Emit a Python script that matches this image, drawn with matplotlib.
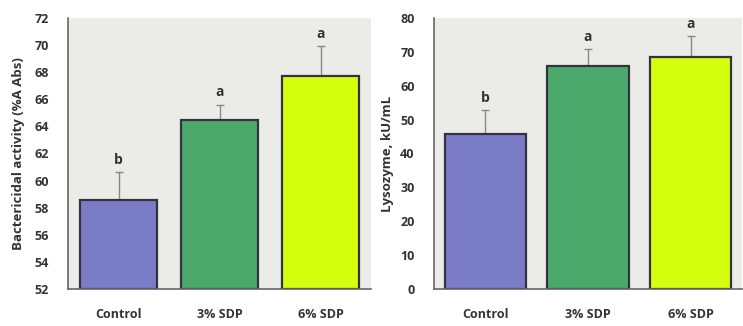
import matplotlib
matplotlib.use("Agg")
import matplotlib.pyplot as plt

categories = ["Control", "3% SDP", "6% SDP"]
bact_vals = [58.6, 64.5, 67.7]
bact_err = [2.0, 1.1, 2.2]
bact_letters = ["b", "a", "a"]
lyso_vals = [45.7, 65.8, 68.6]
lyso_err = [7.0, 5.0, 6.0]
lyso_letters = ["b", "a", "a"]
colors = ["#7b7cc6", "#4aa96a", "#d6ff10"]

plt.rcParams['font.family'] = ['Open Sans', 'DejaVu Sans']

fig = plt.figure(figsize=(7.43, 3.26), dpi=100)
W, H = 743, 326

def make_ax(left, right, top, bottom):
    return fig.add_axes([left / W, 1 - bottom / H, (right - left) / W, (bottom - top) / H])

ax1 = make_ax(68, 371, 18, 289)
ax2 = make_ax(434, 742, 18, 289)

def draw(ax, vals, errs, letters, ylim, yticks, ylabel, width, letter_off, ylab_x):
    ax.set_facecolor("#ebebe8")
    x = range(len(categories))
    ax.bar(x, [v - ylim[0] for v in vals], bottom=ylim[0], width=width, color=colors,
           edgecolor="#333340", linewidth=1.6, zorder=2)
    ax.errorbar(x, vals, yerr=[[0] * 3, errs], fmt="none", ecolor="#888888",
                elinewidth=1.0, capsize=3, capthick=1.0, zorder=1)
    for xi, v, e, l in zip(x, vals, errs, letters):
        ax.text(xi, v + e + letter_off, l, ha="center", va="bottom", fontsize=10,
                fontweight="bold", color="#333333")
    ax.set_xlim(-0.5, 2.5)
    ax.set_ylim(*ylim)
    ax.set_yticks(yticks)
    ax.set_xticks(list(x))
    ax.set_xticklabels(categories, fontsize=9, fontweight="bold", color="#333333")
    ax.tick_params(axis="y", labelsize=9, length=0, pad=14, labelcolor="#333333")
    ax.tick_params(axis="x", length=0, pad=14)
    for lab in ax.get_yticklabels():
        lab.set_fontweight("bold")
    for s in ["top", "right"]:
        ax.spines[s].set_visible(False)
    ax.spines["left"].set_color("#666666")
    ax.spines["bottom"].set_color("#666666")
    ax.spines["left"].set_linewidth(1.2)
    ax.spines["bottom"].set_linewidth(1.2)
    ax.set_ylabel(ylabel, fontsize=9.5, fontweight="bold", color="#333333")
    ax.yaxis.set_label_coords(ylab_x, 0.5)

draw(ax1, bact_vals, bact_err, bact_letters, (52, 72), range(52, 73, 2),
     "Bactericidal activity (%A Abs)", 0.77, 0.4, -0.142)
draw(ax2, lyso_vals, lyso_err, lyso_letters, (0, 80), range(0, 81, 10),
     "Lysozyme, kU/mL", 0.79, 1.5, -0.13)

fig.savefig("out.png", dpi=100)
